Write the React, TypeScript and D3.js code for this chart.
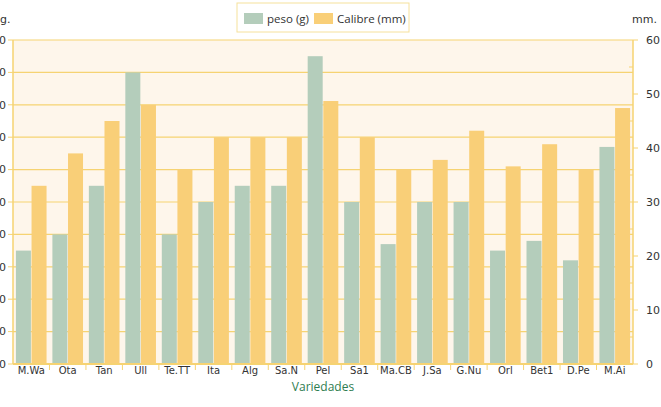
import React, { useEffect, useRef } from "react";
import * as d3 from "d3";

const variedades = [
  "M.Wa", "Ota", "Tan", "Ull", "Te.TT", "Ita", "Alg", "Sa.N", "Pel",
  "Sa1", "Ma.CB", "J.Sa", "G.Nu", "Orl", "Bet1", "D.Pe", "M.Ai",
];
const peso = [35, 40, 55, 90, 40, 50, 55, 55, 95, 50, 37, 50, 50, 35, 38, 32, 67];
const calibre = [33, 39, 45, 48, 36, 42, 42, 42, 48.7, 42, 36, 37.8, 43.2, 36.6, 40.7, 36, 47.4];
const pesoTicks = [0, 10, 20, 30, 40, 50, 60, 70, 80, 90, 100];
const calibreTicks = [0, 10, 20, 30, 40, 50, 60];

const W = 661;
const H = 407;
const GREEN = "#b4cdbb";
const ORANGE = "#f9cf78";
const GOLD = "#f6d372";

const App: React.FC = () => {
  const svgRef = useRef<SVGSVGElement>(null);

  useEffect(() => {
    if (!svgRef.current) return;
    const svg = d3.select(svgRef.current);
    svg.selectAll("*").remove();

    const margin = { top: 40, right: 28, bottom: 43, left: 13 };
    const cw = W - margin.left - margin.right;
    const ch = H - margin.top - margin.bottom;

    const g = svg.append("g").attr("transform", `translate(${margin.left},${margin.top})`);

    const x = d3.scaleBand().domain(variedades).range([0, cw]).paddingInner(0.16).paddingOuter(0.08);
    const bandStep = cw / variedades.length;
    const xs = d3.scaleBand().domain(["peso", "calibre"]).range([0, x.bandwidth()]).paddingInner(0.04);
    const yL = d3.scaleLinear().domain([0, 100]).range([ch, 0]);
    const yR = d3.scaleLinear().domain([0, 60]).range([ch, 0]);

    g.append("rect").attr("width", cw).attr("height", ch).attr("fill", "#fef6eb");

    g.selectAll(".grid")
      .data(pesoTicks)
      .enter()
      .append("line")
      .attr("x1", 0)
      .attr("x2", cw)
      .attr("y1", (d) => yL(d))
      .attr("y2", (d) => yL(d))
      .attr("stroke", GOLD)
      .attr("stroke-width", 1.2);

    const groups = g
      .selectAll(".grp")
      .data(variedades)
      .enter()
      .append("g")
      .attr("transform", (d) => `translate(${x(d)},0)`);

    groups
      .append("rect")
      .attr("x", xs("peso") || 0)
      .attr("width", xs.bandwidth())
      .attr("y", (_d, i) => yL(peso[i]))
      .attr("height", (_d, i) => ch - yL(peso[i]))
      .attr("fill", GREEN);

    groups
      .append("rect")
      .attr("x", xs("calibre") || 0)
      .attr("width", xs.bandwidth())
      .attr("y", (_d, i) => yR(calibre[i]))
      .attr("height", (_d, i) => ch - yR(calibre[i]))
      .attr("fill", ORANGE);

    // axes lines
    g.append("line").attr("x1", 0).attr("x2", 0).attr("y1", 0).attr("y2", ch).attr("stroke", GOLD).attr("stroke-width", 1.5);
    g.append("line").attr("x1", cw).attr("x2", cw).attr("y1", 0).attr("y2", ch).attr("stroke", GOLD).attr("stroke-width", 1.5);
    g.append("line").attr("x1", 0).attr("x2", cw).attr("y1", ch).attr("y2", ch).attr("stroke", GOLD).attr("stroke-width", 2);

    // left axis ticks + labels (cut off by the window edge)
    pesoTicks.forEach((t) => {
      g.append("line").attr("x1", -5).attr("x2", 0).attr("y1", yL(t)).attr("y2", yL(t)).attr("stroke", GOLD);
      g.append("text")
        .attr("x", -7)
        .attr("y", yL(t))
        .attr("dy", "0.35em")
        .attr("text-anchor", "end")
        .style("font-family", "DejaVu Sans")
        .style("font-size", "11px")
        .style("fill", "#333")
        .text(t);
    });

    // right axis
    d3.range(0, 61, 5).forEach((t) => {
      const major = t % 10 === 0;
      g.append("line")
        .attr("x1", major ? cw : cw - 4)
        .attr("x2", major ? cw + 5 : cw)
        .attr("y1", yR(t))
        .attr("y2", yR(t))
        .attr("stroke", GOLD);
    });
    calibreTicks.forEach((t) => {
      g.append("text")
        .attr("x", cw + 13)
        .attr("y", yR(t))
        .attr("dy", "0.35em")
        .style("font-family", "DejaVu Sans")
        .style("font-size", "11px")
        .style("fill", "#333")
        .text(t);
    });

    // x ticks at band boundaries and labels
    d3.range(1, variedades.length).forEach((i) => {
      g.append("line")
        .attr("x1", i * bandStep)
        .attr("x2", i * bandStep)
        .attr("y1", ch)
        .attr("y2", ch + 6)
        .attr("stroke", GOLD);
    });
    g.selectAll(".xl")
      .data(variedades)
      .enter()
      .append("text")
      .attr("x", (d) => (x(d) || 0) + x.bandwidth() / 2)
      .attr("y", ch + 10)
      .attr("text-anchor", "middle")
      .style("font-family", "DejaVu Sans")
      .style("font-size", "10px")
      .style("fill", "#333")
      .text((d) => d);

    svg.append("text")
      .attr("x", margin.left + cw / 2)
      .attr("y", 391)
      .attr("text-anchor", "middle")
      .style("font-family", "Open Sans")
      .style("font-size", "12px")
      .style("fill", "#2e7d50")
      .text("Variedades");

    svg.append("text")
      .attr("x", 0)
      .attr("y", 23)
      .style("font-family", "DejaVu Sans")
      .style("font-size", "11px")
      .style("fill", "#333")
      .text("g.");
    svg.append("text")
      .attr("x", 632)
      .attr("y", 23)
      .style("font-family", "DejaVu Sans")
      .style("font-size", "11px")
      .style("fill", "#333")
      .text("mm.");

    // legend
    const lg = svg.append("g");
    lg.append("rect")
      .attr("x", 237)
      .attr("y", 3)
      .attr("width", 172)
      .attr("height", 29)
      .attr("fill", "#fff")
      .attr("stroke", "#f6e19c");
    const items = [
      { label: "peso (g)", color: GREEN, x: 244 },
      { label: "Calibre (mm)", color: ORANGE, x: 314 },
    ];
    items.forEach((it) => {
      lg.append("rect").attr("x", it.x).attr("y", 13).attr("width", 19).attr("height", 11).attr("fill", it.color);
      lg.append("text")
        .attr("x", it.x + 23)
        .attr("y", 23)
        .style("font-family", "Open Sans")
        .style("font-size", "11.5px")
        .style("fill", "#333")
        .text(it.label);
    });
  }, []);

  return (
    <svg
      ref={svgRef}
      width={W}
      height={H}
      style={{ position: "absolute", left: 0, top: 0, background: "#fff" }}
    />
  );
};

export default App;
